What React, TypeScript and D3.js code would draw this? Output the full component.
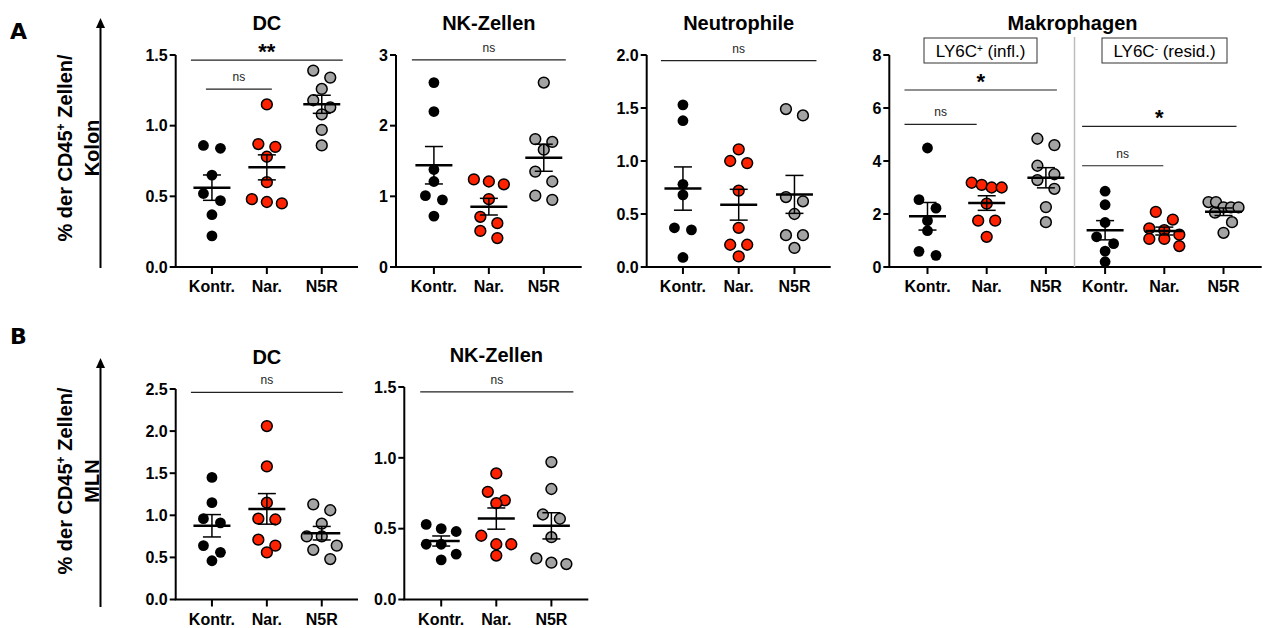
import React from "react";
import * as d3 from "d3";

// ---------- data ----------
const groupLabels = ["Kontr.", "Nar.", "N5R"];
const groupColors = ["#000000", "#ff2200", "#a3a3a3"];

// A – Kolon
const dcKolonKontr = [0.86, 0.84, 0.65, 0.52, 0.47, 0.37, 0.22];
const dcKolonNar = [1.15, 0.87, 0.85, 0.78, 0.6, 0.48, 0.46, 0.45];
const dcKolonN5R = [1.39, 1.34, 1.26, 1.18, 1.13, 1.08, 0.97, 0.86];
const nkKolonKontr = [2.61, 2.2, 1.38, 1.21, 1.01, 0.95, 0.72];
const nkKolonNar = [1.24, 1.21, 1.17, 0.96, 0.71, 0.62, 0.51, 0.41];
const nkKolonN5R = [2.61, 1.81, 1.77, 1.66, 1.35, 1.21, 1.01, 0.95];
const neutroKolonKontr = [1.53, 1.38, 0.78, 0.68, 0.37, 0.35, 0.09];
const neutroKolonNar = [1.11, 1.0, 0.98, 0.72, 0.37, 0.21, 0.21, 0.1];
const neutroKolonN5R = [1.49, 1.43, 0.66, 0.62, 0.5, 0.3, 0.3, 0.18];
const makroPlusKontr = [4.49, 2.54, 2.22, 1.75, 1.37, 0.59, 0.44];
const makroPlusNar = [3.18, 3.1, 3.0, 3.0, 2.39, 1.75, 1.75, 1.14];
const makroPlusN5R = [4.84, 4.6, 3.82, 3.5, 3.28, 2.95, 2.26, 1.69];
const makroMinusKontr = [2.86, 2.35, 1.68, 1.14, 0.88, 0.6, 0.2];
const makroMinusNar = [2.08, 1.79, 1.46, 1.39, 1.22, 1.06, 1.06, 0.79];
const makroMinusN5R = [2.45, 2.45, 2.25, 2.25, 2.25, 2.05, 1.69, 1.29];
// B – MLN
const dcMlnKontr = [1.45, 1.15, 0.96, 0.91, 0.64, 0.56, 0.46];
const dcMlnNar = [2.06, 1.58, 1.15, 0.96, 0.95, 0.71, 0.64, 0.56];
const dcMlnN5R = [1.13, 1.06, 0.9, 0.75, 0.75, 0.64, 0.59, 0.48];
const nkMlnKontr = [0.53, 0.5, 0.48, 0.39, 0.39, 0.32, 0.28];
const nkMlnNar = [0.89, 0.76, 0.7, 0.68, 0.45, 0.39, 0.39, 0.31];
const nkMlnN5R = [0.97, 0.78, 0.6, 0.57, 0.44, 0.29, 0.26, 0.25];

// tick values
const ticksDcKolon = [0, 0.5, 1.0, 1.5];
const ticksNkKolon = [0, 1, 2, 3];
const ticksNeutro = [0, 0.5, 1.0, 1.5, 2.0];
const ticksMakro = [0, 2, 4, 6, 8];
const ticksDcMln = [0, 0.5, 1.0, 1.5, 2.0, 2.5];
const ticksNkMln = [0, 0.5, 1.0, 1.5];

// significance brackets: from/to = group index, y = data level
const bracketsDcKolon = [
  { from: 0, to: 2, y: 1.464, label: "**", o0: -21, o1: 21 },
  { from: 0, to: 1, y: 1.258, label: "ns", o0: -6, o1: 5 },
];
const bracketsNkKolon = [{ from: 0, to: 2, y: 2.93, label: "ns", o0: -22, o1: 22 }];
const bracketsNeutro = [{ from: 0, to: 2, y: 1.946, label: "ns", o0: -22, o1: 22 }];
const bracketsMakro = [
  { from: 0, to: 2, y: 6.68, label: "*", o0: -23, o1: 11 },
  { from: 0, to: 1, y: 5.38, label: "ns", o0: -23, o1: -10 },
  { from: 3, to: 5, y: 5.31, label: "*", o0: -23, o1: 13 },
  { from: 3, to: 4, y: 3.82, label: "ns", o0: -23, o1: -1 },
];
const bracketsDcMln = [{ from: 0, to: 2, y: 2.46, label: "ns", o0: -21, o1: 21 }];
const bracketsNkMln = [{ from: 0, to: 2, y: 1.465, label: "ns", o0: -21, o1: 22 }];

// ---------- layout ----------
const FONT = "'Liberation Sans', Arial, Helvetica, sans-serif";
const R = 5.4;

type Bracket = { from: number; to: number; y: number; label: string; o0: number; o1: number };
type Panel = {
  title: string;
  left: number; right: number; top: number; bottom: number; pad: number;
  domain: [number, number]; ticks: number[]; fmt: string;
  series: number[][]; labels: string[]; colors: string[];
  brackets: Bracket[];
};

const panels: Panel[] = [
  {
    title: "DC", left: 175.7, right: 358, top: 55, bottom: 267, pad: 0.66,
    domain: [0, 1.5], ticks: ticksDcKolon, fmt: ".1f",
    series: [dcKolonKontr, dcKolonNar, dcKolonN5R], labels: groupLabels, colors: groupColors,
    brackets: bracketsDcKolon,
  },
  {
    title: "NK-Zellen", left: 396, right: 581.7, top: 55, bottom: 267, pad: 0.69,
    domain: [0, 3], ticks: ticksNkKolon, fmt: "d",
    series: [nkKolonKontr, nkKolonNar, nkKolonN5R], labels: groupLabels, colors: groupColors,
    brackets: bracketsNkKolon,
  },
  {
    title: "Neutrophile", left: 646.7, right: 830.7, top: 55, bottom: 267, pad: 0.65,
    domain: [0, 2], ticks: ticksNeutro, fmt: ".1f",
    series: [neutroKolonKontr, neutroKolonNar, neutroKolonN5R], labels: groupLabels, colors: groupColors,
    brackets: bracketsNeutro,
  },
  {
    title: "Makrophagen", left: 889.3, right: 1261.7, top: 55, bottom: 267, pad: 0.645,
    domain: [0, 8], ticks: ticksMakro, fmt: "d",
    series: [makroPlusKontr, makroPlusNar, makroPlusN5R, makroMinusKontr, makroMinusNar, makroMinusN5R],
    labels: [...groupLabels, ...groupLabels], colors: [...groupColors, ...groupColors],
    brackets: bracketsMakro,
  },
  {
    title: "DC", left: 175.7, right: 358, top: 389, bottom: 599.5, pad: 0.66,
    domain: [0, 2.5], ticks: ticksDcMln, fmt: ".1f",
    series: [dcMlnKontr, dcMlnNar, dcMlnN5R], labels: groupLabels, colors: groupColors,
    brackets: bracketsDcMln,
  },
  {
    title: "NK-Zellen", left: 404.3, right: 588.3, top: 387, bottom: 599.5, pad: 0.67,
    domain: [0, 1.5], ticks: ticksNkMln, fmt: ".1f",
    series: [nkMlnKontr, nkMlnNar, nkMlnN5R], labels: groupLabels, colors: groupColors,
    brackets: bracketsNkMln,
  },
];

// row-based scatter layout (Prism-like)
function spread(values: number[], y: d3.ScaleLinear<number, number>): number[] {
  const idx = values.map((_, i) => i).sort((a, b) => values[b] - values[a]);
  const rows: number[][] = [];
  for (const i of idx) {
    const row = rows[rows.length - 1];
    if (row && Math.abs(y(values[i]) - y(values[row[0]])) < 10) row.push(i);
    else rows.push([i]);
  }
  const off = new Array(values.length).fill(0);
  for (const row of rows) {
    const n = row.length;
    const s = n === 1 ? 0 : n === 2 ? 17 : Math.min(15, 30 / (n - 1));
    row.forEach((i, k) => (off[i] = (k - (n - 1) / 2) * s));
  }
  return off;
}

function PanelView({ p }: { p: Panel }) {
  const y = d3.scaleLinear().domain(p.domain).range([p.bottom, p.top]);
  const keys = p.series.map((_, i) => String(i));
  const x = d3.scalePoint<string>().domain(keys).range([p.left, p.right]).padding(p.pad);
  const fmt = d3.format(p.fmt);
  const titleX = p.series.length === 6 ? (p.left + p.right) / 2 - 3 : (x("0")! + x(String(p.series.length - 1))!) / 2;
  return (
    <g>
      <text x={titleX} y={p.top - 25} textAnchor="middle" fontFamily={FONT} fontWeight="bold" fontSize={20}>
        {p.title}
      </text>
      {/* y axis */}
      <line x1={p.left} x2={p.left} y1={p.top} y2={p.bottom} stroke="#000" strokeWidth={2} />
      {p.ticks.map((t) => (
        <g key={"yt" + t}>
          <line x1={p.left - 6} x2={p.left} y1={y(t)} y2={y(t)} stroke="#000" strokeWidth={2} />
          <text x={p.left - 8} y={y(t)} dy="0.36em" textAnchor="end" fontFamily={FONT} fontWeight="bold" fontSize={16}>
            {fmt(t)}
          </text>
        </g>
      ))}
      {/* x axis */}
      <line x1={p.left - 1} x2={p.right} y1={p.bottom} y2={p.bottom} stroke="#000" strokeWidth={2} />
      {keys.map((k, i) => (
        <g key={"xt" + k}>
          <line x1={x(k)} x2={x(k)} y1={p.bottom} y2={p.bottom + 7} stroke="#000" strokeWidth={2} />
          <text x={x(k)} y={p.bottom + 25} textAnchor="middle" fontFamily={FONT} fontWeight="bold" fontSize={16}>
            {p.labels[i]}
          </text>
        </g>
      ))}
      {/* points */}
      {p.series.map((vals, si) => {
        const cx = x(String(si))!;
        const off = spread(vals, y);
        const isBlack = p.colors[si] === "#000000";
        return (
          <g key={"s" + si}>
            {vals.map((v, j) => (
              <circle
                key={j}
                cx={cx + off[j]}
                cy={y(v)}
                r={R}
                fill={p.colors[si]}
                stroke="#000"
                strokeWidth={isBlack ? 0 : 1.5}
              />
            ))}
          </g>
        );
      })}
      {/* mean ± SEM */}
      {p.series.map((vals, si) => {
        const cx = x(String(si))!;
        const m = d3.mean(vals)!;
        const sem = d3.deviation(vals)! / Math.sqrt(vals.length);
        return (
          <g key={"m" + si} stroke="#000">
            <line x1={cx} x2={cx} y1={y(m - sem)} y2={y(m + sem)} strokeWidth={1.5} />
            <line x1={cx - 9} x2={cx + 9} y1={y(m + sem)} y2={y(m + sem)} strokeWidth={1.5} />
            <line x1={cx - 9} x2={cx + 9} y1={y(m - sem)} y2={y(m - sem)} strokeWidth={1.5} />
            <line x1={cx - 18.5} x2={cx + 18.5} y1={y(m)} y2={y(m)} strokeWidth={2.5} />
          </g>
        );
      })}
      {/* brackets */}
      {p.brackets.map((b, bi) => {
        const x0 = x(String(b.from))! + b.o0;
        const x1 = x(String(b.to))! + b.o1;
        const yy = y(b.y);
        const isNs = b.label === "ns";
        return (
          <g key={"b" + bi}>
            <line x1={x0} x2={x1} y1={yy} y2={yy} stroke="#222" strokeWidth={1.2} />
            <text
              x={(x0 + x1) / 2}
              y={isNs ? yy - 8 : yy - 1}
              textAnchor="middle"
              fontFamily={FONT}
              fontWeight={isNs ? "normal" : "bold"}
              fontSize={isNs ? 12 : 22}
              fill={isNs ? "#222" : "#000"}
            >
              {b.label}
            </text>
          </g>
        );
      })}
    </g>
  );
}

function YLabel({ cy, top, bottom, line2 }: { cy: number; top: number; bottom: number; line2: string }) {
  return (
    <g>
      <text transform={`translate(72,${cy}) rotate(-90)`} textAnchor="middle" fontFamily={FONT} fontWeight="bold" fontSize={20}>
        % der CD45
        <tspan baselineShift="super" fontSize={12}>+</tspan>
        <tspan> Zellen/</tspan>
      </text>
      <text transform={`translate(99,${cy}) rotate(-90)`} textAnchor="middle" fontFamily={FONT} fontWeight="bold" fontSize={20}>
        {line2}
      </text>
      <line x1={100.5} x2={100.5} y1={bottom} y2={top + 8} stroke="#000" strokeWidth={2} />
      <path d={`M100.5,${top} L96,${top + 10} L105,${top + 10} Z`} fill="#000" />
    </g>
  );
}

export default function App() {
  return (
    <svg
      width={1263}
      height={628}
      viewBox="0 0 1263 628"
      style={{ position: "absolute", left: 0, top: 0, background: "#fff" }}
    >
      <rect x={0} y={0} width={1263} height={628} fill="#fff" />
      <text x={10} y={39} fontFamily="'DejaVu Sans', sans-serif" fontWeight="bold" fontSize={22}>A</text>
      <text x={10} y={344} fontFamily="'DejaVu Sans', sans-serif" fontWeight="bold" fontSize={22}>B</text>
      <YLabel cy={148} top={18} bottom={268} line2="Kolon" />
      <YLabel cy={481} top={358} bottom={607} line2="MLN" />
      {panels.map((p, i) => (
        <PanelView key={i} p={p} />
      ))}
      {/* Makrophagen divider + subgroup boxes */}
      <line x1={1074.5} x2={1074.5} y1={37} y2={267} stroke="#bdbdbd" strokeWidth={1.5} />
      <rect x={924} y={38} width={113} height={25} fill="none" stroke="#333" strokeWidth={1} />
      <text x={980.5} y={57} textAnchor="middle" fontFamily={FONT} fontSize={17}>
        LY6C<tspan baselineShift="super" fontSize={10}>+</tspan> (infl.)
      </text>
      <rect x={1102} y={38} width={125} height={25} fill="none" stroke="#333" strokeWidth={1} />
      <text x={1164.5} y={57} textAnchor="middle" fontFamily={FONT} fontSize={17}>
        LY6C<tspan baselineShift="super" fontSize={10}>-</tspan> (resid.)
      </text>
    </svg>
  );
}
